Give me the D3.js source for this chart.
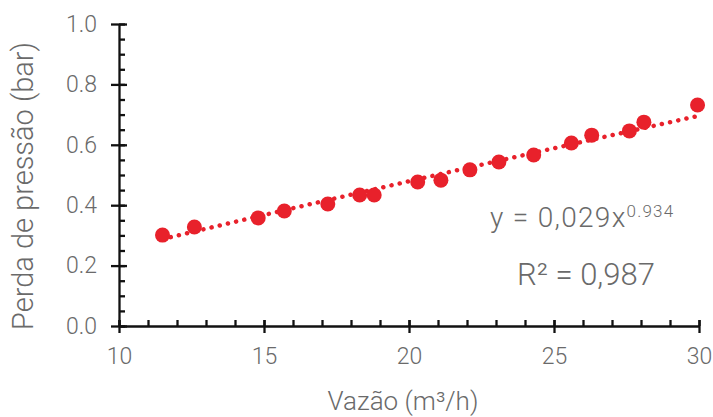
<!DOCTYPE html>
<html>
<head>
<meta charset="utf-8">
<script src="https://cdn.jsdelivr.net/npm/d3@7"></script>
<style>
	body { margin: 0; background: #fff; }
	text { font-family: Roboto, "Liberation Sans", sans-serif; font-weight: 300; fill: #6a6a6a; }
</style>
</head>
<body>
<svg id="chart" width="713" height="417"></svg>
<script>
// measured flow (m3/h) and pressure loss (bar)
var vazao = [11.5, 12.6, 14.8, 15.7, 17.2, 18.3, 18.8, 20.3, 21.1, 22.1, 23.1, 24.3, 25.6, 26.3, 27.6, 28.1, 29.95];
var perda = [0.301, 0.328, 0.358, 0.381, 0.404, 0.434, 0.434, 0.477, 0.483, 0.517, 0.543, 0.566, 0.606, 0.632, 0.646, 0.675, 0.732];
var xTicks = [10, 15, 20, 25, 30];
var yTicks = [0.0, 0.2, 0.4, 0.6, 0.8, 1.0];

(function () {
	'use strict';
	var svg = d3.select('#chart'),
		left = 119, right = 699, top = 24, bottom = 326,
		red = '#e8212b', axisColor = '#111',
		x, y, g, fit, line, trend, eq, i;

	x = d3.scaleLinear().domain([10, 30]).range([left, right]);
	y = d3.scaleLinear().domain([0, 1]).range([bottom, top]);

	// power fit y = a * x^b via log-log least squares
	fit = (function () {
		var n = vazao.length, sx = 0, sy = 0, sxx = 0, sxy = 0, lx, ly, b, a;
		for (i = 0; i < n; i++) {
			lx = Math.log(vazao[i]);
			ly = Math.log(perda[i]);
			sx += lx; sy += ly; sxx += lx * lx; sxy += lx * ly;
		}
		b = (n * sxy - sx * sy) / (n * sxx - sx * sx);
		a = Math.exp((sy - b * sx) / n);
		return function (v) { return a * Math.pow(v, b); };
	}());

	trend = d3.range(11.5, 30.001, 0.25);
	line = d3.line()
		.x(function (d) { return x(d); })
		.y(function (d) { return y(fit(d)); });

	svg.append('path')
		.datum(trend)
		.attr('d', line)
		.attr('fill', 'none')
		.attr('stroke', red)
		.attr('stroke-width', 4.5)
		.attr('stroke-linecap', 'round')
		.attr('stroke-dasharray', '0.1 8.3');

	// markers
	svg.selectAll('circle.pt')
		.data(vazao)
		.enter().append('circle')
		.attr('class', 'pt')
		.attr('cx', function (d) { return x(d); })
		.attr('cy', function (d, j) { return y(perda[j]); })
		.attr('r', 7.5)
		.attr('fill', red);

	// x axis
	g = svg.append('g').attr('transform', 'translate(0,' + bottom + ')');
	g.append('g')
		.call(d3.axisBottom(x).tickValues(d3.range(10, 30.5, 1)).tickSize(-6).tickFormat(''))
		.call(function (s) { s.select('.domain').remove(); });
	g.append('g')
		.call(d3.axisBottom(x).tickValues(xTicks).tickSizeInner(7).tickSizeOuter(0).tickPadding(15)
			.tickFormat(d3.format('d')))
		.call(function (s) {
			s.selectAll('.tick line').attr('y1', -6);
			s.selectAll('.tick text').style('font-size', '23px').attr('fill', null);
		});
	g.selectAll('line, path').attr('stroke', axisColor).attr('stroke-width', 2.3);

	// y axis
	g = svg.append('g').attr('transform', 'translate(' + left + ',0)');
	g.append('g')
		.call(d3.axisLeft(y).tickValues(d3.range(0, 1.001, 0.05)).tickSize(-6).tickFormat(''))
		.call(function (s) { s.select('.domain').remove(); });
	g.append('g')
		.call(d3.axisLeft(y).tickValues(yTicks).tickSizeInner(8).tickSizeOuter(0).tickPadding(14)
			.tickFormat(d3.format('.1f')))
		.call(function (s) {
			s.selectAll('.tick line').attr('x1', 8);
			s.selectAll('.tick text').style('font-size', '23px').attr('fill', null);
		});
	g.selectAll('line, path').attr('stroke', axisColor).attr('stroke-width', 2.3);

	// axis titles
	svg.append('text')
		.attr('x', 403).attr('y', 410)
		.attr('text-anchor', 'middle')
		.style('font-size', '26px')
		.text('Vazão (m³/h)');
	svg.append('text')
		.attr('transform', 'translate(33,186) rotate(-90)')
		.attr('text-anchor', 'middle')
		.style('font-size', '29px')
		.text('Perda de pressão (bar)');

	// equation labels
	eq = svg.append('text')
		.attr('x', 490).attr('y', 227)
		.style('font-size', '28px')
		.style('letter-spacing', '1.3px');
	eq.append('tspan').text('y = 0,029x');
	eq.append('tspan').attr('dy', -10).style('font-size', '17px').style('letter-spacing', '1.2px').text('0.934');

	svg.append('text')
		.attr('x', 517).attr('y', 285)
		.style('font-size', '31px')
		.text('R² = 0,987');
}());
</script>
</body>
</html>
